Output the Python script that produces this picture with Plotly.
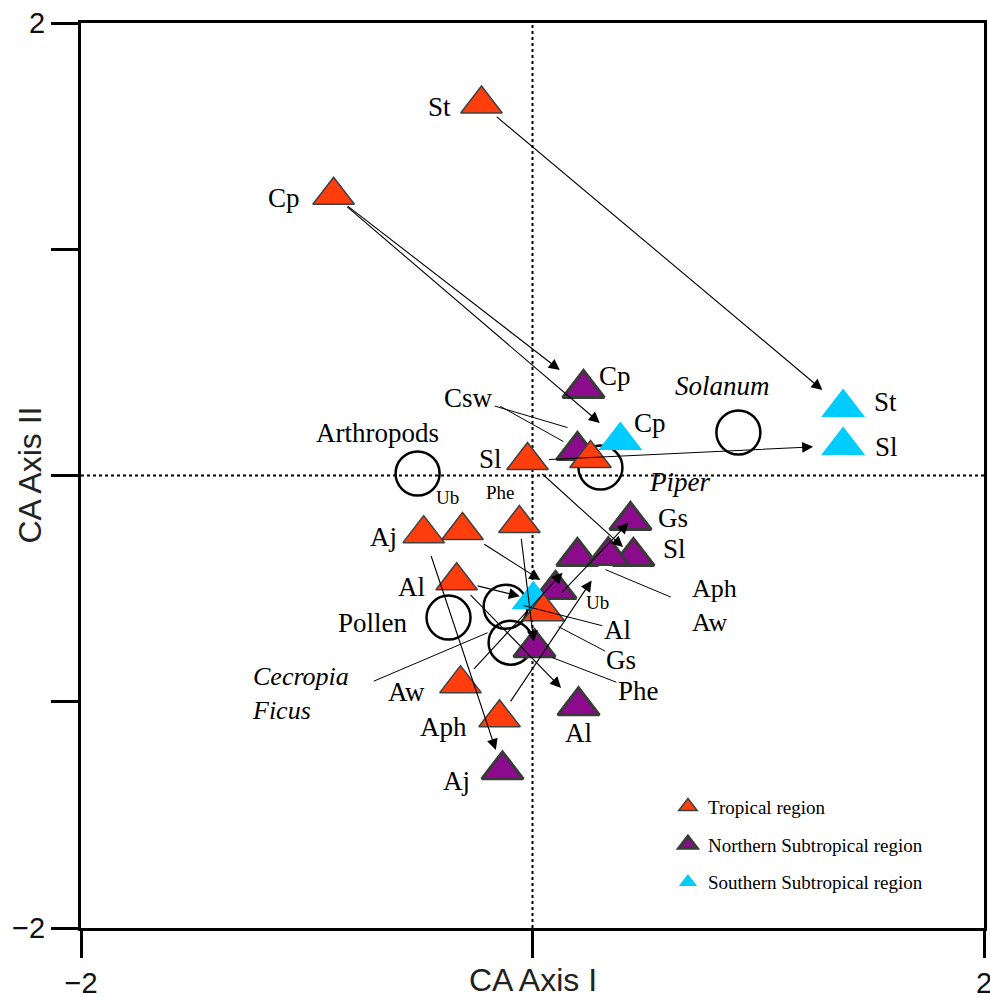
import plotly.graph_objects as go

# ---------------- data (CA axis I / axis II scores) ----------------
trop_names = ["St", "Cp", "Sl", "Csw", "Phe", "Aj", "Ub", "Al", "Gs", "Aw", "Aph"]
trop_x = [-0.226, -0.881, -0.022, 0.257, -0.058, -0.482, -0.310, -0.336, 0.049, -0.319, -0.146]
trop_y = [1.642, 1.239, 0.066, 0.075, -0.212, -0.257, -0.243, -0.465, -0.602, -0.920, -1.071]

north_names = ["Cp", "Csw", "Gs", "Sl", "Aw", "Aph", "Ub", "Phe", "Al", "Aj"]
north_x = [0.226, 0.199, 0.434, 0.447, 0.199, 0.336, 0.102, 0.009, 0.204, -0.133]
north_y = [0.385, 0.111, -0.199, -0.358, -0.358, -0.354, -0.504, -0.761, -1.018, -1.301]

south_names = ["St", "Sl", "Cp", "Al"]
south_x = [1.376, 1.376, 0.389, 0.004]
south_y = [0.301, 0.133, 0.155, -0.549]

food_names = ["Arthropods", "Piper", "Solanum", "Pollen", "Cecropia", "Ficus"]
food_x = [-0.509, 0.301, 0.912, -0.372, -0.119, -0.097]
food_y = [0.009, 0.035, 0.190, -0.628, -0.580, -0.739]

# shifts: (from group, name) -> (to group, name)
shifts = [
    ("T", "St", "S", "St"), ("T", "Cp", "N", "Cp"), ("T", "Cp", "S", "Cp"),
    ("T", "Sl", "S", "Sl"), ("T", "Sl", "N", "Sl"), ("T", "Gs", "N", "Gs"),
    ("T", "Al", "S", "Al"), ("T", "Al", "N", "Al"), ("T", "Aj", "N", "Aj"),
    ("T", "Ub", "N", "Ub"), ("T", "Phe", "N", "Phe"), ("T", "Aw", "N", "Aw"),
    ("T", "Aph", "N", "Aph"),
]
shift_standoff = [27, 30, 27, 30, 14, 3, 14, 25, 21, 18, 6, 22, 30]
shift_startstandoff = [18, 16, 16, 20, 18, 24, 20, 18, 22, 24, 14, 18, 18]

groups = {
    "T": dict(zip(trop_names, zip(trop_x, trop_y))),
    "N": dict(zip(north_names, zip(north_x, north_y))),
    "S": dict(zip(south_names, zip(south_x, south_y))),
}

# plain labels: text, x, y, size, italic, anchor
plain_labels = [
    ("St", -0.412, 1.628, 27, False, "center"), ("Cp", -1.102, 1.226, 27, False, "center"),
    ("Sl", -0.186, 0.071, 27, False, "center"), ("Phe", -0.142, -0.075, 19, False, "center"),
    ("Ub", -0.376, -0.097, 19, False, "center"), ("Aj", -0.659, -0.274, 27, False, "center"),
    ("Al", -0.535, -0.491, 27, False, "center"), ("Aw", -0.558, -0.956, 27, False, "center"),
    ("Aph", -0.394, -1.111, 27, False, "center"),
    ("Cp", 0.367, 0.438, 27, False, "center"), ("Gs", 0.624, -0.190, 27, False, "center"),
    ("Sl", 0.628, -0.323, 27, False, "center"), ("Ub", 0.288, -0.562, 19, False, "center"),
    ("Al", 0.204, -1.137, 27, False, "center"), ("Aj", -0.336, -1.350, 27, False, "center"),
    ("St", 1.562, 0.323, 27, False, "center"), ("Sl", 1.566, 0.128, 27, False, "center"),
    ("Cp", 0.522, 0.230, 27, False, "center"),
    ("Aph<br>Aw", 0.697, -0.575, 26, False, "left"),
    ("<i>Cecropia</i><br><i>Ficus</i>", -1.252, -0.964, 26, False, "left"),
    ("Arthropods", -0.686, 0.190, 27, False, "center"), ("Piper", 0.650, -0.027, 27, True, "center"),
    ("Solanum", 0.841, 0.394, 27, True, "center"), ("Pollen", -0.708, -0.650, 27, False, "center"),
]

# labels with leader lines: text, text x, text y, tip x, tip y
leader_labels = [
    ("Csw", -0.283, 0.341, 0.155, 0.212),
    ("", -0.150, 0.310, 0.137, 0.150),
    ("Al", 0.376, -0.681, -0.040, -0.575),
    ("Gs", 0.394, -0.814, 0.115, -0.668),
    ("Phe", 0.469, -0.951, 0.088, -0.805),
    ("", 0.619, -0.540, 0.323, -0.416),
    ("", -0.710, -0.912, -0.199, -0.695),
]

SERIF = "Liberation Serif, Times New Roman, serif"
SANS = "Liberation Sans, Arial, Helvetica, sans-serif"

fig = go.Figure()

fig.add_trace(go.Scatter(
    x=food_x, y=food_y, text=food_names, mode="markers", showlegend=False,
    marker=dict(symbol="circle", size=44, color="rgba(0,0,0,0)",
                line=dict(color="black", width=2.5)),
    hoverinfo="text"))

fig.add_trace(go.Scatter(
    x=north_x, y=north_y, text=north_names, mode="markers",
    name="Northern Subtropical region", legendrank=2, legendgroup="n",
    marker=dict(symbol="triangle-up", size=36, color="#8C0A8C",
                line=dict(color="#3A3A3A", width=3))))

fig.add_trace(go.Scatter(
    x=south_x, y=south_y, text=south_names, mode="markers",
    name="Southern Subtropical region", legendrank=3, legendgroup="s",
    marker=dict(symbol="triangle-up", size=38, color="#00CCFF",
                line=dict(width=0))))

fig.add_trace(go.Scatter(
    x=trop_x, y=trop_y, text=trop_names, mode="markers",
    name="Tropical region", legendrank=1, legendgroup="t",
    marker=dict(symbol="triangle-up", size=36, color="#FF3D0D",
                line=dict(color="#404040", width=1.5))))

annotations = []
for (g0, n0, g1, n1), so, sso in zip(shifts, shift_standoff, shift_startstandoff):
    x0, y0 = groups[g0][n0]
    x1, y1 = groups[g1][n1]
    annotations.append(dict(
        x=x1, y=y1, ax=x0, ay=y0, xref="x", yref="y", axref="x", ayref="y",
        text="", showarrow=True, arrowhead=2, arrowsize=2.0, arrowwidth=1.1,
        arrowcolor="black", standoff=so, startstandoff=sso))

for txt, x, y, size, it, anc in plain_labels:
    annotations.append(dict(
        x=x, y=y, xref="x", yref="y", showarrow=False, xanchor=anc, align=anc,
        text=f"<i>{txt}</i>" if it else txt,
        font=dict(family=SERIF, size=size, color="black")))

for txt, tx, ty, px, py in leader_labels:
    annotations.append(dict(
        x=px, y=py, ax=tx, ay=ty, xref="x", yref="y", axref="x", ayref="y",
        text=txt, showarrow=True, arrowhead=0, arrowwidth=1,
        arrowcolor="black", font=dict(family=SERIF, size=27, color="black")))

annotations.append(dict(
    x=0.5, y=0, xref="paper", yref="paper", xanchor="center", yanchor="top",
    yshift=-32, text="CA Axis I", showarrow=False,
    font=dict(family=SANS, size=32, color="#222")))
annotations.append(dict(
    x=0, y=0.5, xref="paper", yref="paper", xanchor="center", yanchor="middle",
    xshift=-52, textangle=-90, text="CA Axis II", showarrow=False,
    font=dict(family=SANS, size=32, color="#222")))

fig.update_layout(
    width=998, height=1005,
    margin=dict(l=81, r=6, t=23, b=70),
    paper_bgcolor="white", plot_bgcolor="white",
    annotations=annotations,
    shapes=[
        dict(type="line", xref="x", yref="y", x0=0, x1=0, y0=-2, y1=2,
             line=dict(color="black", width=2, dash="dot"), layer="below"),
        dict(type="line", xref="x", yref="y", x0=-2, x1=2, y0=0, y1=0,
             line=dict(color="black", width=2, dash="dot"), layer="below"),
    ],
    legend=dict(x=0.65, y=0.155, xanchor="left", yanchor="top",
                bgcolor="rgba(0,0,0,0)", tracegroupgap=10,
                font=dict(family=SERIF, size=19, color="black")),
    showlegend=True,
)

axis_common = dict(
    range=[-2, 2], showgrid=False, zeroline=False, showline=True,
    linecolor="black", linewidth=3, mirror=True, ticks="outside",
    ticklen=27, tickwidth=2.5, tickcolor="black",
    tickfont=dict(family=SANS, size=29, color="#111"),
)
fig.update_xaxes(**axis_common, tickvals=[-2, 0, 2], ticktext=["\u22122", "", "2"])
fig.update_yaxes(**axis_common, tickvals=[-2, -1, 0, 1, 2],
                 ticktext=["\u22122", "", "", "", "2"])

fig.write_html(
    "out.html",
    config={"displayModeBar": False},
    post_script="document.body.style.margin='0';"
                "document.documentElement.style.overflow='hidden';",
)
